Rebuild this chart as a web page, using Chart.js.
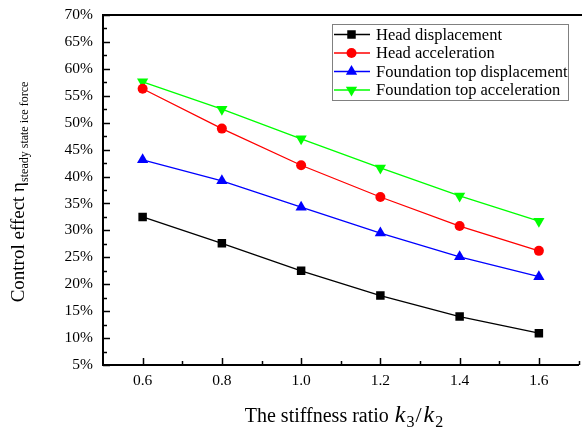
<!DOCTYPE html>
<html>
<head>
<meta charset="utf-8">
<script src="https://cdn.jsdelivr.net/npm/chart.js@4"></script>
<style>
  html, body { margin: 0; padding: 0; background: #fff; overflow: hidden; }
  #wrap { width: 585px; height: 430px; position: relative; }
</style>
</head>
<body>
<div id="wrap"><canvas id="chart"></canvas></div>
<script>
// Data
const stiffnessRatio = [0.6, 0.8, 1.0, 1.2, 1.4, 1.6];
const headDisplacement = [32.5, 27.6, 22.5, 17.9, 14.0, 10.9];
const headAcceleration = [56.3, 48.9, 42.1, 36.2, 30.8, 26.2];
const foundationTopDisplacement = [43.1, 39.2, 34.3, 29.5, 25.1, 21.4];
const foundationTopAcceleration = [57.6, 52.5, 47.0, 41.6, 36.4, 31.7];

const xTicks = [0.6, 0.8, 1.0, 1.2, 1.4, 1.6];
const yTicks = [5, 10, 15, 20, 25, 30, 35, 40, 45, 50, 55, 60, 65, 70];

const seriesNames = ['Head displacement', 'Head acceleration', 'Foundation top displacement', 'Foundation top acceleration'];

const SERIF = '"Liberation Serif", "Times New Roman", serif';

function pts(values) {
  return stiffnessRatio.map((x, i) => ({ x: x, y: values[i] }));
}

function makeSet(label, values, color, style, radius, rotation) {
  return {
    label: label,
    data: pts(values),
    borderColor: color,
    backgroundColor: color,
    borderWidth: 1.3,
    pointStyle: style,
    pointRadius: radius,
    pointRotation: rotation || 0,
    pointBorderWidth: 0,
    pointBackgroundColor: color,
    tension: 0,
  };
}

/**
 * Inward ticks (major + minor) and top frame line
 */
const frameTicks = {
  id: 'frameTicks',
  afterDraw(chart) {
    const ctx = chart.ctx;
    const area = chart.chartArea;
    const xs = chart.scales.x;
    const ys = chart.scales.y;
    ctx.save();
    ctx.strokeStyle = '#000';
    ctx.lineWidth = 2;
    // top line
    ctx.beginPath();
    ctx.moveTo(area.left - 1, area.top);
    ctx.lineTo(chart.width, area.top);
    ctx.stroke();

    ctx.lineWidth = 1.5;
    // y ticks every 2.5
    for (let v = 5; v <= 70.01; v += 2.5) {
      const y = Math.round(ys.getPixelForValue(v)) + 0.5;
      const major = Math.abs(v % 5) < 0.01;
      ctx.beginPath();
      ctx.moveTo(area.left, y);
      ctx.lineTo(area.left + (major ? 7 : 4), y);
      ctx.stroke();
    }
    // x ticks every 0.1
    for (let v = 0.6; v <= 1.71; v += 0.1) {
      const x = Math.round(xs.getPixelForValue(v)) + 0.5;
      const major = Math.round(v * 10) % 2 === 0;
      ctx.beginPath();
      ctx.moveTo(x, area.bottom);
      ctx.lineTo(x, area.bottom - (major ? 7 : 4));
      ctx.stroke();
    }
    ctx.restore();
  },
};

/**
 * Axis titles with sub-scripts
 */
const axisTitles = {
  id: 'axisTitles',
  afterDraw(chart) {
    const ctx = chart.ctx;
    ctx.save();
    ctx.fillStyle = '#000';
    ctx.textBaseline = 'alphabetic';
    ctx.textAlign = 'left';

    // y title (rotated)
    const mainY = 'Control effect \u03B7';
    const subY = 'steady state ice force';
    ctx.font = '19px ' + SERIF;
    const wMain = ctx.measureText(mainY).width;
    ctx.font = '12px ' + SERIF;
    const wSub = ctx.measureText(subY).width;
    const total = wMain + wSub;
    ctx.translate(24, 192);
    ctx.rotate(-Math.PI / 2);
    ctx.font = '19px ' + SERIF;
    ctx.fillText(mainY, -total / 2, 0);
    ctx.font = '12px ' + SERIF;
    ctx.fillText(subY, -total / 2 + wMain, 4);
    ctx.setTransform(1, 0, 0, 1, 0, 0);

    // x title
    const parts = [
      { t: 'The stiffness ratio ', f: '20px ' + SERIF, dy: 0, gap: 1 },
      { t: 'k', f: 'italic 24px ' + SERIF, dy: 0, gap: 1 },
      { t: '3', f: '16px ' + SERIF, dy: 5, gap: 1 },
      { t: '/', f: '22px ' + SERIF, dy: 0, gap: 2 },
      { t: 'k', f: 'italic 24px ' + SERIF, dy: 0, gap: 1 },
      { t: '2', f: '16px ' + SERIF, dy: 5, gap: 0 },
    ];
    let w = 0;
    parts.forEach((p) => { ctx.font = p.f; p.w = ctx.measureText(p.t).width + p.gap; w += p.w; });
    let x = 344 - w / 2;
    parts.forEach((p) => {
      ctx.font = p.f;
      ctx.fillText(p.t, x, 422 + p.dy);
      x += p.w;
    });
    ctx.restore();
  },
};

/**
 * Boxed legend in the top right corner
 */
const boxLegend = {
  id: 'boxLegend',
  afterDraw(chart) {
    const ctx = chart.ctx;
    ctx.save();
    ctx.strokeStyle = '#808080';
    ctx.lineWidth = 1;
    ctx.strokeRect(332.5, 24.5, 236, 76);
    const rows = [34.5, 53, 71.5, 90];
    chart.data.datasets.forEach((ds, i) => {
      const y = rows[i];
      ctx.strokeStyle = ds.borderColor;
      ctx.lineWidth = 1.5;
      ctx.beginPath();
      ctx.moveTo(334, y);
      ctx.lineTo(370, y);
      ctx.stroke();
      ctx.fillStyle = ds.borderColor;
      Chart.helpers.drawPoint(ctx, {
        pointStyle: ds.pointStyle,
        radius: ds.pointRadius,
        rotation: ds.pointRotation,
        borderWidth: 0,
      }, 351.5, y);
      ctx.fillStyle = '#000';
      ctx.font = '16.5px ' + SERIF;
      ctx.textBaseline = 'middle';
      ctx.fillText(ds.label, 376, y + 1);
    });
    ctx.restore();
  },
};

new Chart(document.getElementById('chart'), {
  type: 'line',
  data: {
    datasets: [
      makeSet(seriesNames[0], headDisplacement, '#000000', 'rect', 6),
      makeSet(seriesNames[1], headAcceleration, '#ff0000', 'circle', 5),
      makeSet(seriesNames[2], foundationTopDisplacement, '#0000ff', 'triangle', 6.5),
      makeSet(seriesNames[3], foundationTopAcceleration, '#00ff00', 'triangle', 6.5, 180),
    ],
  },
  options: {
    responsive: true,
    maintainAspectRatio: false,
    animation: false,
    layout: { padding: { top: 15, right: 2, left: 0, bottom: 0 } },
    plugins: {
      legend: { display: false },
      tooltip: { enabled: false },
    },
    scales: {
      x: {
        type: 'linear',
        min: 0.5,
        max: 1.7,
        afterBuildTicks: (scale) => { scale.ticks = xTicks.map((v) => ({ value: v })); },
        afterFit: (scale) => {
          scale.height = 65;
          scale.paddingLeft = 0;
          scale.paddingRight = 0;
        },
        ticks: {
          color: '#000',
          font: { family: SERIF, size: 15.5 },
          padding: 7,
          maxRotation: 0,
          callback: (v) => Number(v).toFixed(1),
        },
        grid: { display: true, drawOnChartArea: false, drawTicks: false },
        border: { display: true, color: '#000', width: 2 },
      },
      y: {
        min: 5,
        max: 70,
        afterBuildTicks: (scale) => { scale.ticks = yTicks.map((v) => ({ value: v })); },
        afterFit: (scale) => {
          scale.width = 103;
          scale.paddingTop = 0;
          scale.paddingBottom = 0;
        },
        ticks: {
          color: '#000',
          font: { family: SERIF, size: 15.5 },
          padding: 10,
          callback: (v) => v + '%',
        },
        grid: { display: true, drawOnChartArea: false, drawTicks: false },
        border: { display: true, color: '#000', width: 2 },
      },
    },
  },
  plugins: [frameTicks, axisTitles, boxLegend],
});
</script>
</body>
</html>
